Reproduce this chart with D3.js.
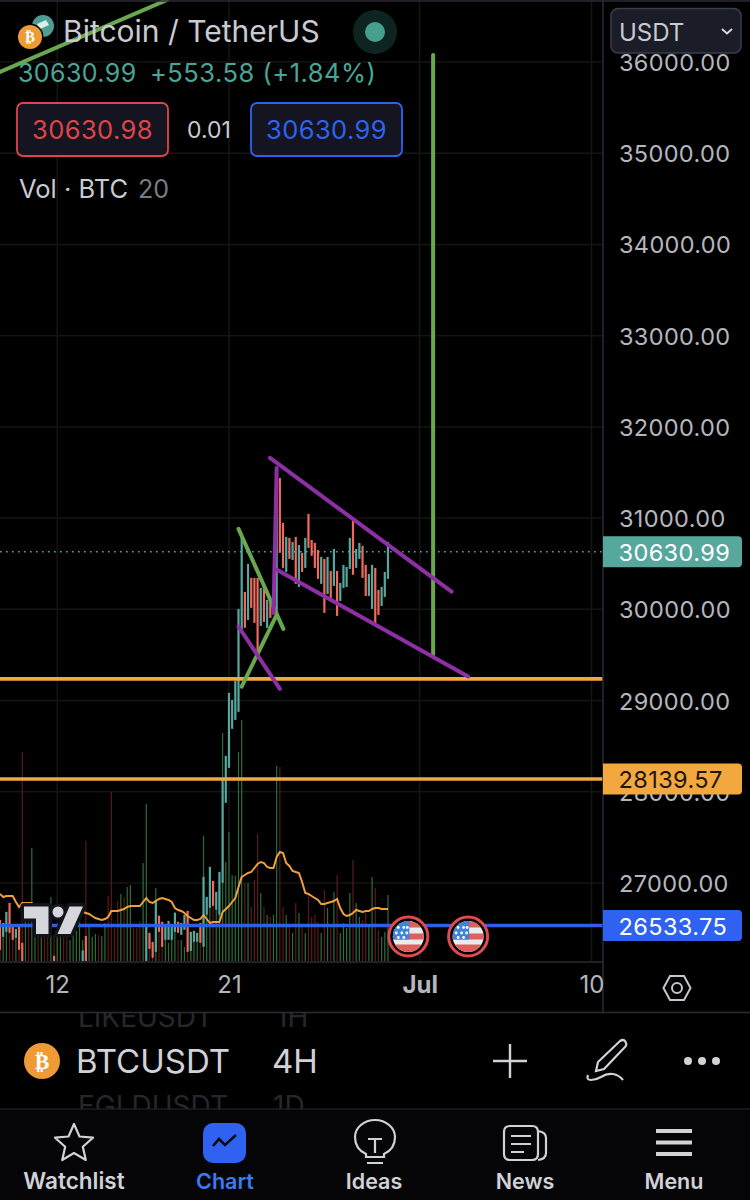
<!DOCTYPE html>
<html><head><meta charset="utf-8">
<script src="https://cdn.jsdelivr.net/npm/d3@7"></script>
<style>html,body{margin:0;padding:0;background:#000;width:750px;height:1200px;overflow:hidden}svg{display:block}text{font-family:Inter,Roboto,sans-serif}</style>
</head><body><svg id="c" width="750" height="1200"></svg>
<script>
const candleHigh=[26596,26563,26684,26783,26541,26498,26530,26344,
26080,26020,25980,26010,25950,25990,26040,26070,26110,26202,
26120,26090,26060,26030,26000,26040,26080,26130,26260,26420,
26100,26050,26010,25980,25960,25940,25920,25900,25930,25950,25970,26000,26020,25980,26010,26050,26090,26120,
26520,26454,26355,26815,26640,26575,26530,26585,26530,26673,26575,26563,26651,26695,26465,26476,26454,26563,
27068,26848,27177,27024,26903,27122,28131,28394,29084,29007,29216,30005,30794,30191,30498,30345,30345,30345,
30235,30257,30103,30082,30191,31397,31441,30948,30794,30783,30739,30794,30706,30619,30783,31046,30761,30728,
30651,30575,30553,30575,30421,30662,30421,30290,30487,30465,30783,31002,30662,30728,30695,30487,30388,30487,
30454,30213,30246,30410,30739];
const candleLow=[26267,26410,26465,26454,26377,26399,26267,26100,
25900,25860,25820,25850,25800,25830,25880,25910,25950,26050,
25970,25940,25900,25870,25850,25880,25920,25980,26100,26100,
25950,25900,25860,25830,25810,25790,25770,25750,25780,25800,25820,25850,25870,25830,25860,25900,25940,25970,
26100,26279,26180,26245,26465,26300,26377,26377,26377,26465,26454,26432,26487,26245,26256,26355,26355,26344,
26300,26651,26728,26750,26706,26651,27002,27879,28262,28690,28788,28876,29775,29797,29884,30016,29851,29523,
29818,29862,29797,29906,29961,29961,30619,30454,30410,30553,30542,30279,30246,30410,30454,30673,30586,30454,
30334,30279,29961,30169,30125,30257,29928,30092,30235,30246,30443,30378,30454,30553,30345,30147,30147,30005,
29851,29939,30037,30136,30334];
const candleUp=[0,1,1,0,0,1,0,0,1,0,1,1,0,1,0,0,1,0,1,1,0,0,1,1,1,1,1,0,1,1,1,0,1,1,0,0,0,0,1,0,1,1,0,0,0,1,
1,0,0,1,0,0,1,1,1,1,0,1,1,0,1,1,1,0,1,1,1,0,1,1,1,1,1,1,1,1,1,0,1,0,0,0,1,0,1,0,1,1,0,0,1,0,1,0,1,0,1,0,0,0,0,1,0,1,0,1,0,1,1,1,1,0,1,1,0,0,1,1,0,0,1,1,1];
const volume=[4100,3100,4600,4100,3600,3100,3600,20900,4000,4100,11300,2600,2600,3100,2600,3100,6400,2600,3100,2600,2600,2600,2100,2900,3000,4100,2100,12000,3600,2400,2700,2600,2500,3800,6500,16900,3300,6000,6700,6400,7400,7600,3300,3300,4000,9800,15700,2100,1100,7300,4600,3600,3600,1800,3100,4900,2100,2100,1400,4600,2900,2600,1900,3800,12500,4600,5800,6400,5100,8100,22800,9900,12900,8600,8500,20900,24100,7800,7800,5400,8100,12700,6800,5400,4600,4400,4600,19500,19400,5400,4600,3600,2800,5800,4800,3400,2800,6600,4400,4600,3900,2800,7100,5300,3400,6900,8600,2800,3800,3300,6800,10100,5800,4400,4100,4800,3600,8400,7300,3100,2400,2900,6600];
const volumeMA=[6700,6400,6500,6500,6500,5900,5400,5800,5800,5800,5800,5500,5400,5300,5300,5200,5100,5200,5100,5000,5100,5000,5000,5000,5000,4900,4900,4800,4700,4500,4300,4200,4100,4200,4400,5000,5000,5000,5100,5200,5400,5500,5500,5500,5500,5900,6300,5900,5800,6000,6200,6300,6200,6100,5900,5300,5100,5000,4800,4500,4300,4100,4100,4200,4600,4200,3800,3900,3900,3900,4900,5200,5500,5900,6300,7400,8400,8600,8800,8900,9300,9700,9900,9800,9400,9300,9300,10400,10900,10800,9800,9500,9000,8900,8800,7900,6800,6700,6500,6300,6100,5700,5700,5800,5900,6000,6200,5300,4700,4500,4600,4800,5100,5000,4900,5000,5000,5200,5300,5300,5200,5200,5200];
const priceTicks=[36000,35000,34000,33000,32000,31000,30000,29000,28000,27000];
const dateTicks=[new Date(Date.UTC(2023,5,12)),new Date(Date.UTC(2023,5,21)),new Date(Date.UTC(2023,6,1)),new Date(Date.UTC(2023,6,10))];
const dateLabels=["12","21","Jul","10"];
const lastPrice=30630.99, orangeLevelA=29238, orangeLevelB=28139.57, blueLevel=26533.75;
const purpleLines=[[[84.9,31660],[142,30194]],[[87.2,30432],[147.2,29263]],[[87,31550],[86,29961]],[[75,29811],[88,29128]]];
const greenLines=[[[75,30882],[89.1,29786]],[[76,29153],[87,29939]],[[136.2,36076],[136.2,29500]],[[0,35890],[52.5,36680]]];
const eventBars=[128.4,147.2];

const UP="#56a89e",DOWN="#ee6a5c",VUP="#2e6d39",VDOWN="#5b1a1b",AXC="#b4b6bd",LINE="#2b2d36";
const T0=Date.UTC(2023,5,9),H4=4*3600*1000;
const barTime=i=>new Date(T0+i*H4);
const x=d3.scaleUtc().domain([barTime(0),dateTicks[3]]).range([0,591.5]);
const y=d3.scaleLinear().domain([36000,27000]).range([62,883]);
const v=d3.scaleLinear().domain([0,25000]).range([961,711]);
const svg=d3.select("#c");
svg.append("rect").attr("width",750).attr("height",1200).attr("fill","#000");
const defs=svg.append("defs");
defs.append("clipPath").attr("id","pane").append("rect").attr("width",603).attr("height",961);
defs.append("clipPath").attr("id","taxis").append("rect").attr("y",962).attr("width",603).attr("height",50);
defs.append("clipPath").attr("id","ghost1").append("rect").attr("y",1013).attr("width",400).attr("height",25);
defs.append("clipPath").attr("id","ghost2").append("rect").attr("y",1090).attr("width",400).attr("height",19);

// grid
const grid=svg.append("g").attr("stroke","#151515").attr("stroke-width",1.5);
grid.selectAll(".h").data(priceTicks).join("line").attr("x1",0).attr("x2",603).attr("y1",d=>y(d)).attr("y2",d=>y(d));
grid.selectAll(".v").data(dateTicks).join("line").attr("x1",d=>x(d)).attr("x2",d=>x(d)).attr("y1",0).attr("y2",961);

const pane=svg.append("g").attr("clip-path","url(#pane)");
// volume
pane.append("g").selectAll("rect").data(volume).join("rect")
 .attr("x",(d,i)=>x(barTime(i))-0.6).attr("width",1.2).attr("y",d=>v(d)).attr("height",d=>v(0)-v(d))
 .attr("fill",(d,i)=>candleUp[i]?VUP:VDOWN);
// candles
pane.append("g").selectAll("rect").data(candleHigh).join("rect")
 .attr("x",(d,i)=>x(barTime(i))-1.1).attr("width",2.2).attr("y",d=>y(d)).attr("height",(d,i)=>y(candleLow[i])-y(d))
 .attr("fill",(d,i)=>candleUp[i]?UP:DOWN);
// volume MA
pane.append("path").datum(volumeMA).attr("fill","none").attr("stroke","#f0a03a").attr("stroke-width",2)
 .attr("d",d3.line().x((d,i)=>x(barTime(i))).y(d=>v(d)));
// last price dotted
pane.append("line").attr("x1",0).attr("x2",603).attr("y1",y(lastPrice)).attr("y2",y(lastPrice))
 .attr("stroke",UP).attr("stroke-width",1.6).attr("stroke-dasharray","1.6 4.4");
// levels
[[orangeLevelA,"#f2a83f"],[orangeLevelB,"#f2a83f"],[blueLevel,"#2f5fe8"]].forEach(l=>{
 pane.append("line").attr("x1",0).attr("x2",603).attr("y1",y(l[0])).attr("y2",y(l[0])).attr("stroke",l[1]).attr("stroke-width",3.6);
});
const seg=(g,data,col,w)=>g.append("g").selectAll("line").data(data).join("line")
 .attr("x1",d=>x(barTime(d[0][0]))).attr("y1",d=>y(d[0][1])).attr("x2",d=>x(barTime(d[1][0]))).attr("y2",d=>y(d[1][1]))
 .attr("stroke",col).attr("stroke-width",w).attr("stroke-linecap","round");
seg(pane,greenLines,"#6aa84f",4);
seg(pane,purpleLines,"#8f2fa6",4);

// pane borders
const bd=svg.append("g").attr("stroke",LINE).attr("stroke-width",1.5);
[[0,1,750,1],[0,962,603,962],[0,1012.5,750,1012.5],[603,0,603,1012]].forEach(a=>bd.append("line").attr("x1",a[0]).attr("y1",a[1]).attr("x2",a[2]).attr("y2",a[3]));
svg.append("line").attr("x1",0).attr("x2",750).attr("y1",1109).attr("y2",1109).attr("stroke","#1c1d24").attr("stroke-width",1.5);

// axes
const ay=svg.append("g").attr("transform","translate(603,1)")
 .call(d3.axisRight(y).tickValues(priceTicks).tickSize(0).tickPadding(16).tickFormat(d=>d.toFixed(2)));
ay.select(".domain").remove();
ay.selectAll("text").attr("fill",AXC).attr("font-size",23.5).style("letter-spacing","0.35px").style("font-family","Inter");
const ax=svg.append("g").attr("clip-path","url(#taxis)").append("g").attr("transform","translate(0,974)")
 .call(d3.axisBottom(x).tickValues(dateTicks).tickSize(0).tickPadding(2).tickFormat((d,i)=>dateLabels[i]));
ax.select(".domain").remove();
ax.selectAll("text").attr("fill",AXC).attr("font-size",24).style("font-family","Inter").attr("font-weight",(d,i)=>i==2?700:400);

// price tags
function tag(p,fill,txtc,label){
 const c=y(p);
 svg.append("path").attr("d",`M603 ${c-15.5}H738a4 4 0 0 1 4 4V${c+11.5}a4 4 0 0 1 -4 4H603Z`).attr("fill",fill);
 svg.append("text").attr("x",618.5).attr("y",c+9).attr("font-size",23.5).attr("fill",txtc).style("letter-spacing","0.4px").text(label);
}
tag(lastPrice,"#56a79c","#fff","30630.99");
tag(orangeLevelB,"#f2a83f","#20160a","28139.57");
tag(blueLevel,"#2f62f0","#fff","26533.75");

// usdt box
svg.append("rect").attr("x",611).attr("y",8.5).attr("width",130).attr("height",44.5).attr("rx",7).attr("fill","#1a1c28").attr("stroke","#3b3e4a").attr("stroke-width",1.5);
svg.append("text").attr("x",619).attr("y",41).attr("font-size",24).attr("fill","#c8cad1").text("USDT");
svg.append("path").attr("d","M722 29l5 4.5l5-4.5").attr("fill","none").attr("stroke","#d4d6dc").attr("stroke-width",2);

// header
svg.append("circle").attr("cx",43).attr("cy",26).attr("r",11).attr("fill","#4f9c93");
svg.append("path").attr("d","M37 24l9-4l3 5l-9 4Z").attr("fill","#d8efe9");
function btc(cx,cy,r,fs){
 svg.append("circle").attr("cx",cx).attr("cy",cy).attr("r",r).attr("fill","#ee9a35");
 svg.append("text").attr("x",cx).attr("y",cy+fs*0.36).attr("text-anchor","middle").attr("font-size",fs).attr("font-weight",700).attr("fill","#fff").style("font-family","DejaVu Sans").text("₿");
}
svg.append("circle").attr("cx",30).attr("cy",37).attr("r",13.5).attr("fill","#000");
btc(30,37,12,15);
svg.append("text").attr("x",63).attr("y",42).attr("font-size",30).attr("fill","#c9cbd2").text("Bitcoin / TetherUS");
svg.append("circle").attr("cx",375).attr("cy",32).attr("r",22).attr("fill","#0d2420");
svg.append("circle").attr("cx",375).attr("cy",32).attr("r",10).attr("fill","#46a08c");
svg.append("text").attr("x",18).attr("y",82).attr("font-size",25).attr("fill","#4aa597").style("letter-spacing","0.4px").text("30630.99");
svg.append("text").attr("x",150).attr("y",82).attr("font-size",25.5).attr("fill","#4aa597").style("letter-spacing","0.5px").text("+553.58 (+1.84%)");
[[17,"#e0434b","30630.98"],[251,"#2f62f0","30630.99"]].forEach(b=>{
 svg.append("rect").attr("x",b[0]).attr("y",103).attr("width",151).attr("height",53).attr("rx",6).attr("fill","#141520").attr("stroke",b[1]).attr("stroke-width",1.8);
 svg.append("text").attr("x",b[0]+75.5).attr("y",138.5).attr("text-anchor","middle").attr("font-size",25.5).attr("fill",b[1]).style("letter-spacing","0.4px").text(b[2]);
});
svg.append("text").attr("x",209).attr("y",138).attr("text-anchor","middle").attr("font-size",23).attr("fill","#c9cbd2").text("0.01");
svg.append("text").attr("x",19).attr("y",197.5).attr("font-size",25.5).attr("fill","#c9cbd2").text("Vol · BTC");
svg.append("text").attr("x",138).attr("y",197.5).attr("font-size",25).attr("fill","#787b85").text("20");

// TV logo
const logo=svg.append("g").attr("transform","translate(24,906.5)");
const lp="M0 0H24.5V27.5H12V12H0Z M45.5 0H59L46.5 27.5H33.5Z";
logo.append("path").attr("d",lp).attr("fill","#12141c").attr("stroke","#12141c").attr("stroke-width",7).attr("stroke-linejoin","round");
logo.append("circle").attr("cx",34).attr("cy",5.5).attr("r",8.5).attr("fill","#12141c");
logo.append("path").attr("d",lp).attr("fill","#d5d7dd");
logo.append("circle").attr("cx",34).attr("cy",5.5).attr("r",5.5).attr("fill","#d5d7dd");

// event flags
eventBars.forEach((b,k)=>{
 const cx=x(barTime(b)),cy=936.5,id="fl"+k;
 const g=svg.append("g");
 g.append("circle").attr("cx",cx).attr("cy",cy).attr("r",20).attr("fill","#000");
 g.append("circle").attr("cx",cx).attr("cy",cy).attr("r",19.5).attr("fill","none").attr("stroke","#df4a50").attr("stroke-width",3);
 defs.append("clipPath").attr("id",id).append("circle").attr("cx",cx).attr("cy",cy).attr("r",15.5);
 const f=g.append("g").attr("clip-path",`url(#${id})`);
 f.append("rect").attr("x",cx-16).attr("y",cy-16).attr("width",32).attr("height",32).attr("fill","#e9ecef");
 f.append("rect").attr("x",cx-16).attr("y",cy-16).attr("width",32).attr("height",7).attr("fill","#df5f5c");
 f.append("rect").attr("x",cx-16).attr("y",cy-3).attr("width",32).attr("height",6).attr("fill","#df5f5c");
 f.append("rect").attr("x",cx-16).attr("y",cy+8).attr("width",32).attr("height",9).attr("fill","#df5f5c");
 f.append("rect").attr("x",cx-16).attr("y",cy-16).attr("width",17).attr("height",19).attr("fill","#3f83dc");
 [[-10,-9],[-4.5,-9],[-12,-3.5],[-6.5,-3.5],[-1.5,-3.5],[-10,1],[-4.5,1],[-1,-9]].forEach(s=>f.append("circle").attr("cx",cx+s[0]).attr("cy",cy+s[1]).attr("r",1.4).attr("fill","#fff"));
});

// hex icon
svg.append("path").attr("d","M663.5 988l6.5-12h14l6.5 12l-6.5 12h-14Z").attr("fill","none").attr("stroke","#c4c6cd").attr("stroke-width",2);
svg.append("circle").attr("cx",677).attr("cy",988).attr("r",5).attr("fill","none").attr("stroke","#c4c6cd").attr("stroke-width",2);

// ghost list
const g1=svg.append("g").attr("clip-path","url(#ghost1)"),g2=svg.append("g").attr("clip-path","url(#ghost2)");
g1.append("text").attr("x",78).attr("y",1027).attr("font-size",28).attr("fill","#26272c").text("LIKEUSDT");
g1.append("text").attr("x",276).attr("y",1027).attr("font-size",28).attr("fill","#26272c").text("1H");
g2.append("text").attr("x",78).attr("y",1116).attr("font-size",28).attr("fill","#26272c").text("EGLDUSDT");
g2.append("text").attr("x",273).attr("y",1116).attr("font-size",28).attr("fill","#26272c").text("1D");

// toolbar
btc(42,1061,18,22);
svg.append("text").attr("x",76).attr("y",1073).attr("font-size",33).attr("fill","#d0d2d8").text("BTCUSDT");
svg.append("text").attr("x",272).attr("y",1073).attr("font-size",33).attr("fill","#d0d2d8").text("4H");
svg.append("path").attr("d","M510 1044V1078M493 1061H527").attr("stroke","#d0d2d8").attr("stroke-width",2.4).attr("fill","none");
svg.append("path").attr("d","M598 1062L620 1041q3-2 5 0l1 2q1 2-1 4L604 1069L596 1071Z M588 1075q-2 5 3 5q5 0 10-3q6-4 12-3q6 1 10 6").attr("stroke","#d0d2d8").attr("stroke-width",2.2).attr("fill","none");
[688,702,716].forEach(c=>svg.append("circle").attr("cx",c).attr("cy",1061).attr("r",4).attr("fill","#d0d2d8"));

// nav
svg.append("rect").attr("x",0).attr("y",1110).attr("width",750).attr("height",90).attr("fill","#050507");
const nav=[["Watchlist",74,"#d0d2d8"],["Chart",225,"#3a7bf0"],["Ideas",374,"#d0d2d8"],["News",525,"#d0d2d8"],["Menu",674,"#d0d2d8"]];
nav.forEach(n=>svg.append("text").attr("x",n[1]).attr("y",1188.5).attr("text-anchor","middle").attr("font-size",n[0]==="Watchlist"?22.5:21.5).attr("font-weight",600).attr("fill",n[2]).text(n[0]));
const st="#d0d2d8";
svg.append("path").attr("d","M74 1124l5.5 12.5l13.5 1.2l-10.2 9l3 13.3l-11.8-7l-11.8 7l3-13.3l-10.2-9l13.5-1.2Z").attr("fill","none").attr("stroke",st).attr("stroke-width",2.2).attr("stroke-linejoin","round");
svg.append("rect").attr("x",203).attr("y",1123).attr("width",43).attr("height",40).attr("rx",10).attr("fill","#2f62f0");
svg.append("path").attr("d","M213 1146l6-7l6 6l11-10").attr("fill","none").attr("stroke","#0a0c14").attr("stroke-width",2.6);
svg.append("path").attr("d","M366 1157v-3q-11-5-11-17a20 17 0 0 1 40 0q0 12-11 17v3Z M368 1139h14M375 1139v14M367 1163h16").attr("fill","none").attr("stroke",st).attr("stroke-width",2.2);
svg.append("path").attr("d","M510 1126h22q6 0 6 6v22q0 6-6 6h-22q-6 0-6-6v-22q0-6 6-6Z M538 1131q8 1 8 7v15q0 6-8 7 M511 1136h20M511 1144h20M511 1152h13").attr("fill","none").attr("stroke",st).attr("stroke-width",2.2);
[1131,1142.5,1154].forEach(c=>svg.append("rect").attr("x",656).attr("y",c-2).attr("width",36).attr("height",4).attr("fill",st));
</script></body></html>
